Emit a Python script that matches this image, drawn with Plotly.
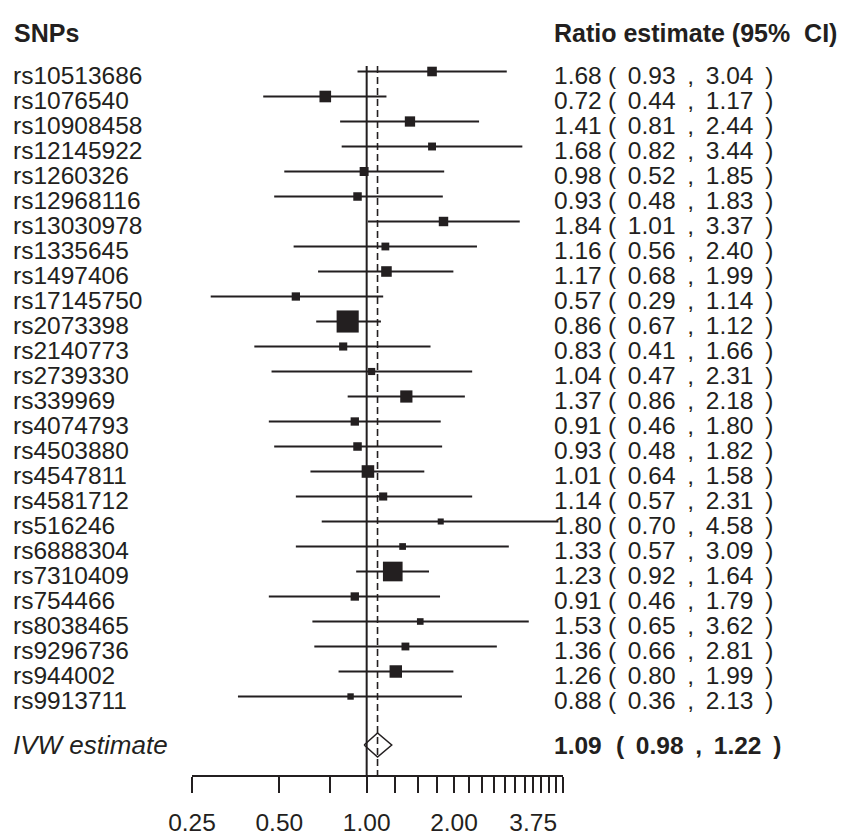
import numpy as np
import plotly.graph_objects as go

# ---------------- data ----------------
snps = ["rs10513686", "rs1076540", "rs10908458", "rs12145922", "rs1260326",
        "rs12968116", "rs13030978", "rs1335645", "rs1497406", "rs17145750",
        "rs2073398", "rs2140773", "rs2739330", "rs339969", "rs4074793",
        "rs4503880", "rs4547811", "rs4581712", "rs516246", "rs6888304",
        "rs7310409", "rs754466", "rs8038465", "rs9296736", "rs944002",
        "rs9913711"]
est = [1.68, 0.72, 1.41, 1.68, 0.98, 0.93, 1.84, 1.16, 1.17, 0.57,
       0.86, 0.83, 1.04, 1.37, 0.91, 0.93, 1.01, 1.14, 1.80, 1.33,
       1.23, 0.91, 1.53, 1.36, 1.26, 0.88]
lo = [0.93, 0.44, 0.81, 0.82, 0.52, 0.48, 1.01, 0.56, 0.68, 0.29,
      0.67, 0.41, 0.47, 0.86, 0.46, 0.48, 0.64, 0.57, 0.70, 0.57,
      0.92, 0.46, 0.65, 0.66, 0.80, 0.36]
hi = [3.04, 1.17, 2.44, 3.44, 1.85, 1.83, 3.37, 2.40, 1.99, 1.14,
      1.12, 1.66, 2.31, 2.18, 1.80, 1.82, 1.58, 2.31, 4.58, 3.09,
      1.64, 1.79, 3.62, 2.81, 1.99, 2.13]
ivw_label = "IVW estimate"
ivw_est, ivw_lo, ivw_hi = 1.09, 0.98, 1.22
null_value = 1.0
tick_vals = [0.25, 0.50, 0.75, 1.00, 1.25, 1.50, 1.75, 2.00, 2.25, 2.50,
             2.75, 3.00, 3.25, 3.50, 3.75, 4.00, 4.25, 4.50, 4.75]
tick_labels = {0.25: "0.25", 0.50: "0.50", 1.00: "1.00", 2.00: "2.00", 3.75: "3.75"}
header_left = "SNPs"
header_right = "Ratio estimate (95%&nbsp; CI)"

# ---------------- layout helpers (page pixels) ----------------
OFF = 8                    # default body margin of the page
W, H = 853 - OFF, 836 - OFF
PL, PR = 192, 563          # plot area left/right (page px)
PB = 775                   # axis line y (page px)
ROW0, ROWH = 71.5, 25.0    # first row centre and row pitch (page px)
INK = "#231f20"
FONT = "Liberation Sans, Arial, sans-serif"
FS = 24.5
SP = " \u2009"             # a space plus a thin space

def py2row(py):
    return (py - ROW0) / ROWH

def px2paper(px):
    return (px - PL) / (PR - PL)

def ci_text(a, b):
    return f"({SP}{a:.2f}{SP},{SP}{b:.2f}{SP})"

n = len(snps)
rows = list(range(n))
ivw_row = py2row(745)
y_top = py2row(OFF)
y_bot = py2row(PB)
txt_dy = 4 / ROWH

# box side ~ 1/se (sqrt of inverse-variance weight)
se = [(np.log(h) - np.log(l)) / (2 * 1.96) for l, h in zip(lo, hi)]
box = [2.9 / s for s in se]

fig = go.Figure()

# vertical null line and IVW dashed line
fig.add_trace(go.Scatter(x=[null_value, null_value], y=[py2row(66), y_bot + 1],
                         mode="lines", line=dict(color=INK, width=2),
                         hoverinfo="skip", showlegend=False))
fig.add_trace(go.Scatter(x=[ivw_est, ivw_est], y=[py2row(66), y_bot + 1],
                         mode="lines", line=dict(color=INK, width=1.6, dash="7px,4px"),
                         hoverinfo="skip", showlegend=False))

# CI lines
cx, cy = [], []
for i in rows:
    cx += [lo[i], hi[i], None]
    cy += [i, i, None]
fig.add_trace(go.Scatter(x=cx, y=cy, mode="lines",
                         line=dict(color=INK, width=2),
                         hoverinfo="skip", showlegend=False, cliponaxis=False))

# boxes
fig.add_trace(go.Scatter(x=est, y=rows, mode="markers",
                         marker=dict(symbol="square", size=box, color=INK,
                                     opacity=1, line=dict(width=0)),
                         showlegend=False, cliponaxis=False))

# IVW diamond
dh = 12 / ROWH
fig.add_trace(go.Scatter(x=[ivw_lo, ivw_est, ivw_hi, ivw_est, ivw_lo],
                         y=[ivw_row, ivw_row - dh, ivw_row, ivw_row + dh, ivw_row],
                         mode="lines", line=dict(color=INK, width=1.5),
                         showlegend=False, hoverinfo="skip"))

ann = []
# headers
ann.append(dict(x=px2paper(12), y=py2row(33), text="<b>" + header_left + "</b>",
                xanchor="left", font=dict(size=25)))
ann.append(dict(x=px2paper(552), y=py2row(33), text="<b>" + header_right + "</b>",
                xanchor="left", font=dict(size=25)))
# rows
for i in rows:
    ann.append(dict(x=px2paper(11), y=i + txt_dy, text=snps[i], xanchor="left",
                    font=dict(size=FS)))
    ann.append(dict(x=px2paper(552), y=i + txt_dy, text=f"{est[i]:.2f}",
                    xanchor="left", font=dict(size=FS)))
    ann.append(dict(x=px2paper(606), y=i + txt_dy, text=ci_text(lo[i], hi[i]),
                    xanchor="left", font=dict(size=FS)))
# IVW
ann.append(dict(x=px2paper(11), y=ivw_row, text="<i>" + ivw_label + "</i>",
                xanchor="left", font=dict(size=26)))
ann.append(dict(x=px2paper(552), y=ivw_row, text=f"<b>{ivw_est:.2f}</b>",
                xanchor="left", font=dict(size=FS)))
ann.append(dict(x=px2paper(614), y=ivw_row,
                text="<b>" + ci_text(ivw_lo, ivw_hi) + "</b>",
                xanchor="left", font=dict(size=FS)))
for a in ann:
    a.update(xref="paper", yref="y", showarrow=False, yanchor="middle")
    a["font"].update(family=FONT, color=INK)

fig.update_layout(
    width=W, height=H,
    margin=dict(l=PL - OFF, r=W - (PR - OFF), t=0, b=H - (PB - OFF), pad=0),
    paper_bgcolor="white", plot_bgcolor="white",
    annotations=ann,
    font=dict(family=FONT, color=INK),
    xaxis=dict(type="log", range=[np.log10(tick_vals[0]), np.log10(tick_vals[-1])],
               showgrid=False, zeroline=False,
               showline=True, linecolor=INK, linewidth=2,
               ticks="outside", ticklen=16, tickwidth=2, tickcolor=INK,
               tickvals=tick_vals,
               ticktext=[tick_labels.get(v, "") for v in tick_vals],
               tickfont=dict(size=FS, family=FONT, color=INK),
               ticklabelstandoff=9),
    yaxis=dict(range=[y_bot, y_top], visible=False, showgrid=False, zeroline=False),
)

fig.write_html("out.html")
